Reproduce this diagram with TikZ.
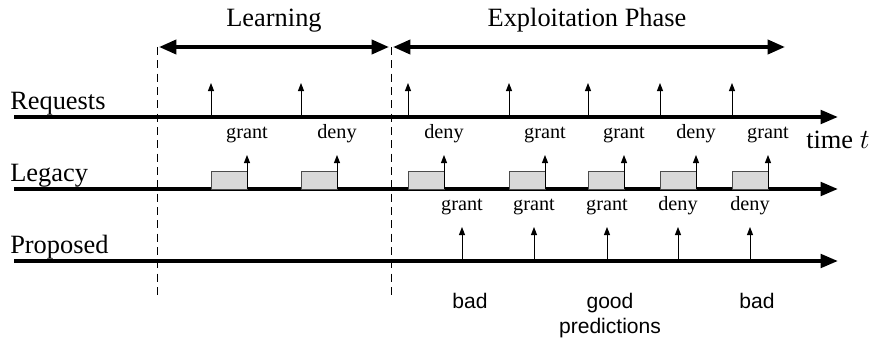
\documentclass[tikz,border=0pt]{standalone}
\usepackage{fontspec}
\setmainfont{Liberation Serif}
\setsansfont{Liberation Sans}
\usetikzlibrary{arrows.meta}
\begin{document}
\begin{tikzpicture}[x=0.75pt,y=0.75pt,line join=round,
	axis/.style={line width=2.8pt,-{Triangle[length=13pt,width=10pt]}},
	phase/.style={line width=2.8pt,{Triangle[length=13pt,width=10.5pt]}-{Triangle[length=13pt,width=10.5pt]}},
	tick/.style={line width=0.7pt,-{Triangle[length=6pt,width=4.5pt]}},
	gbox/.style={draw=black!70,line width=0.6pt,fill=black!15},
	sep/.style={line width=0.6pt,dash pattern=on 6pt off 4pt},
	big/.style={font=\fontsize{19.8}{22}\selectfont,inner sep=0pt},
	small/.style={font=\fontsize{15.2}{17}\selectfont,inner sep=0pt,anchor=base},
	remark/.style={font=\sffamily\fontsize{15.8}{18}\selectfont,inner sep=0pt,anchor=base}]
	\useasboundingbox (0,0) rectangle (875,340);
	% rows
	\foreach \n/\y/\t in {req/223/Requests,leg/151/Legacy,pro/79/Proposed}{
		\coordinate (\n-s) at (14,\y);
		\coordinate (\n-e) at (838,\y);
		\draw[axis] (\n-s)--(\n-e);
		\node[big,anchor=base west] (\n-lbl) at (10,\y+8){\t};
	}
	\node[big,anchor=base west] (time) at (806,192){time $t$};
	% phases
	\foreach \n/\x in {a/157,b/391}{
		\coordinate (\n-top) at (\x,293);
		\coordinate (\n-bot) at (\x,43);
		\draw[sep] (\n-top)--(\n-bot);
	}
	\coordinate (c-top) at (785,293);
	\draw[phase] ([xshift=1.5pt]a-top)--([xshift=-1.5pt]b-top);
	\draw[phase] ([xshift=1.5pt]b-top)--(c-top);
	\node[big,anchor=base] (learn) at (274,313){Learning};
	\node[big,anchor=base] (exploit) at (587,313){Exploitation Phase};
	% requests and legacy answers
	\foreach \x/\a [count=\i] in {211/grant,301/deny,408/deny,509/grant,588/grant,660/deny,732/grant}{
		\coordinate (r\i) at (\x,223);
		\coordinate (r\i-t) at (\x,257);
		\draw[tick] (r\i)--(r\i-t);
		\node[small] (r\i-lbl) at (\x+36,202){\a};
		\draw[gbox] (\x,151) rectangle (\x+36,169);
		\coordinate (l\i) at (\x+36,151);
		\coordinate (l\i-t) at (\x+36,185);
		\draw[tick] (l\i)--(l\i-t);
	}
	% proposed answers
	\foreach \x/\a [count=\i] in {462/grant,534/grant,607/grant,678/deny,750/deny}{
		\coordinate (p\i) at (\x,79);
		\coordinate (p\i-t) at (\x,113);
		\draw[tick] (p\i)--(p\i-t);
		\node[small] (p\i-lbl) at (\x,130){\a};
	}
	\node[remark] (bad1) at (470,32){bad};
	\node[remark] (good) at (610,32){good};
	\node[remark] (bad2) at (757,32){bad};
	\node[remark] (pred) at (610,7){predictions};
\end{tikzpicture}
\end{document}
